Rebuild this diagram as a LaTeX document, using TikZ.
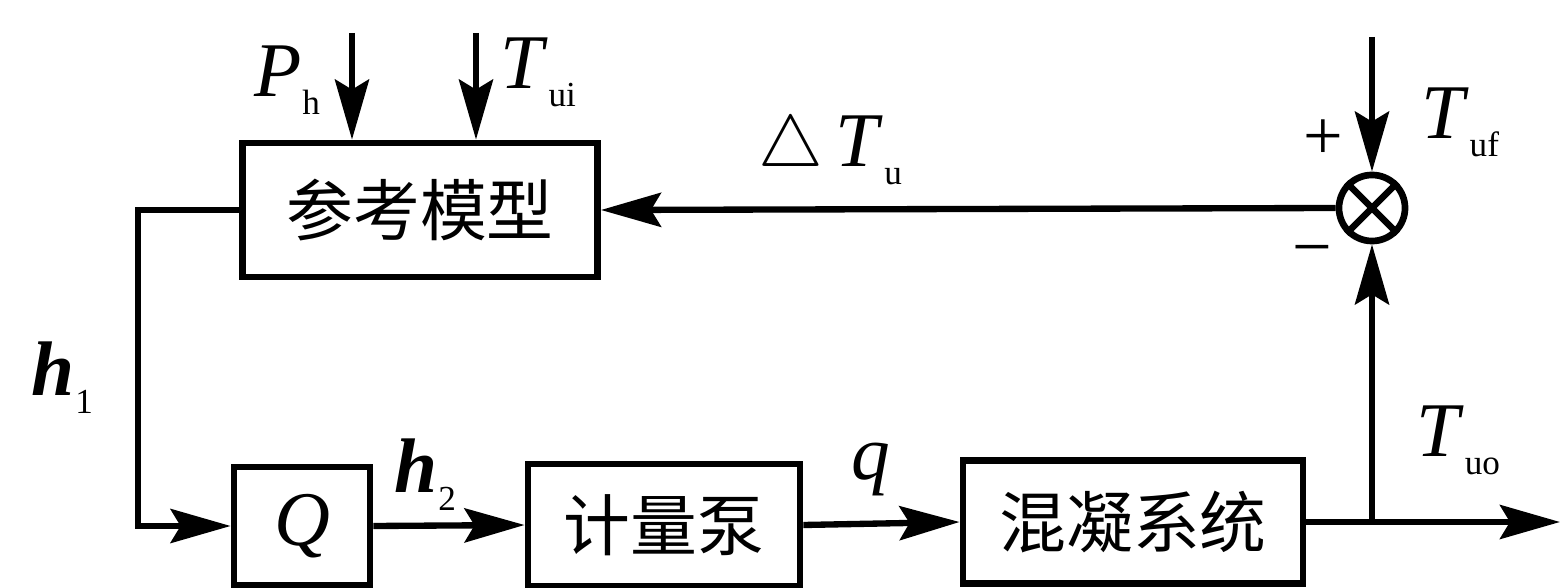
\documentclass[tikz,border=0pt]{standalone}
\usepackage{fontspec}
\setmainfont{Liberation Serif}
\newfontfamily\cjk{Noto Sans CJK SC}
\usetikzlibrary{arrows.meta,calc}
\newcommand{\sym}[2]{\textit{#1}\kern0.3pt\raisebox{-0.5ex}{\fontsize{10}{10}\selectfont #2}}
\tikzset{
  blk/.style={draw,line width=1.9pt,inner sep=0pt,font=\cjk\fontsize{19}{22}\selectfont},
  arr/.style={line width=1.8pt,-{Stealth[length=0.6cm,width=0.34cm,inset=0.1cm]}},
  lab/.style={font=\fontsize{22}{24}\selectfont,inner sep=0pt},
  sgn/.style={font=\fontsize{20}{22}\selectfont,inner sep=0pt}
}
\begin{document}
\begin{tikzpicture}[x=0.01cm,y=-0.01cm]
\useasboundingbox (0,0) rectangle (1566,588);
% blocks
\node[blk,minimum width=3.55cm,minimum height=1.34cm] (ref) at (420,210) {参考模型};
\node[blk,minimum width=1.36cm,minimum height=1.18cm,font=\fontsize{22}{24}\selectfont\itshape] (Q) at (302,526) {Q};
\node[blk,minimum width=2.72cm,minimum height=1.22cm] (pump) at (664,525) {计量泵};
\node[blk,minimum width=3.40cm,minimum height=1.23cm] (mix) at (1133,522) {混凝系统};
\node[circle,draw,line width=1.9pt,minimum size=0.66cm,inner sep=0pt] (sum) at (1372,208) {};
\draw[line width=1.9pt] (sum.north west) -- (sum.south east);
\draw[line width=1.9pt] (sum.north east) -- (sum.south west);
% coordinates
\coordinate (ph) at (352,33);
\coordinate (tui) at (476,33);
\coordinate (tuf) at (1372,37);
\coordinate (lc) at (138,380);
\coordinate (br) at (1372,522);
\coordinate (out) at (1560,522);
% connectors
\draw[arr] (ph) -- (ph |- ref.north);
\draw[arr] (tui) -- (tui |- ref.north);
\draw[arr] (tuf) -- (sum.north);
\draw[arr] (sum.west) -- (ref.east);
\draw[arr] (ref.west) -| (lc) |- (Q.west);
\draw[arr] (Q.east) -- (pump.west);
\draw[arr] (pump.east) -- (mix.west);
\draw[arr] (mix.east) -- (out);
\draw[arr] (br) -- (sum.south);
% labels
\node[lab] (lph) at (287,80) {\sym{P}{h}};
\node[lab] (ltui) at (538,72) {\sym{T}{ui}};
\node[lab] (ldt) at (830,150) {$\triangle$\,\sym{T}{u}};
\node[lab] (ltuf) at (1460,122) {\sym{T}{uf}};
\node[sgn] (plus) at (1323,140) {+};
\node[sgn] (minus) at (1312,258) {\textminus};
\node[lab] (lh1) at (62,378) {\textbf{\textit{h}}\kern0.3pt\raisebox{-0.5ex}{\fontsize{10}{10}\selectfont 1}};
\node[lab] (lh2) at (425,475) {\textbf{\textit{h}}\kern0.3pt\raisebox{-0.5ex}{\fontsize{10}{10}\selectfont 2}};
\node[lab] (lq) at (871,470) {\textit{q}};
\node[lab] (ltuo) at (1458,440) {\sym{T}{uo}};
\end{tikzpicture}
\end{document}
